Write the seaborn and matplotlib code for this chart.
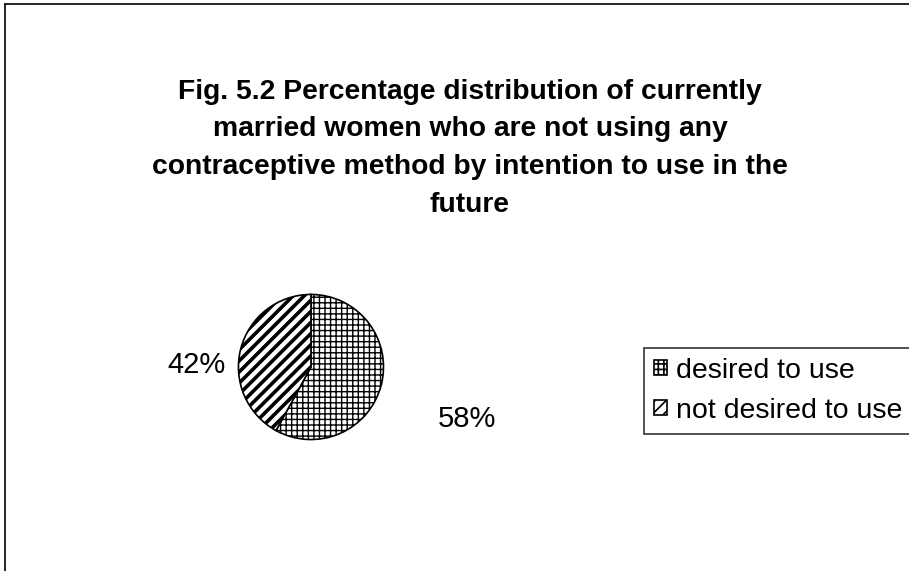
import matplotlib
matplotlib.use("Agg")
import matplotlib.pyplot as plt
from matplotlib.lines import Line2D
import seaborn as sns

sns.set_style("white")
plt.rcParams['font.family'] = ['Liberation Sans', 'DejaVu Sans']
plt.rcParams['hatch.linewidth'] = 1.2

categories = ["desired to use", "not desired to use"]
values = [58, 42]
pct_labels = ["58%", "42%"]
hatches = ["+++", "///"]
title = ("Fig. 5.2 Percentage distribution of currently\n"
         "married women who are not using any\n"
         "contraceptive method by intention to use in the\n"
         "future")

fig = plt.figure(figsize=(9.09, 5.71), dpi=100)
fig.patch.set_facecolor("white")

ax = fig.add_axes([0.2607, 0.2277, 0.1628, 0.2592])
wedges, _ = ax.pie(values, startangle=90, counterclock=False,
                   colors=["white", "white"],
                   wedgeprops=dict(edgecolor="black", linewidth=1.2))
for w, h in zip(wedges, hatches):
    w.set_hatch(h)
if hasattr(wedges[1], "set_hatch_linewidth"):
    wedges[1].set_hatch_linewidth(2.6)
    wedges[0].set_hatch_linewidth(1.0)
ax.set_xlim(-1.02, 1.02)
ax.set_ylim(-1.02, 1.02)
ax.set_aspect("equal")
ax.axis("off")

# percentage labels
ax.text(2.15, -0.72, pct_labels[0], ha="center", va="center", fontsize=21,
        color="black")
ax.text(-1.58, 0.03, pct_labels[1], ha="center", va="center", fontsize=21,
        color="black")

fig.text(0.517, 0.862, title, ha="center", va="top", fontsize=20.3,
         fontweight="bold", linespacing=1.58, color="black")

leg = fig.legend(wedges, categories, loc="upper left",
                 bbox_to_anchor=(0.7085, 0.3905), fontsize=20.5,
                 frameon=True, fancybox=False, edgecolor="black",
                 handlelength=0.45, handleheight=0.45, handletextpad=0.32,
                 borderpad=0.34, labelspacing=0.5, borderaxespad=0)
leg.get_frame().set_linewidth(1.2)
for t in leg.get_texts():
    t.set_color("black")

# chart area border (left and top only visible)
fig.add_artist(Line2D([0.0055, 0.0055], [0, 0.993], color="black", lw=1.2,
                      transform=fig.transFigure))
fig.add_artist(Line2D([0.0055, 1], [0.993, 0.993], color="black", lw=1.2,
                      transform=fig.transFigure))

fig.savefig("out.png", dpi=100)
